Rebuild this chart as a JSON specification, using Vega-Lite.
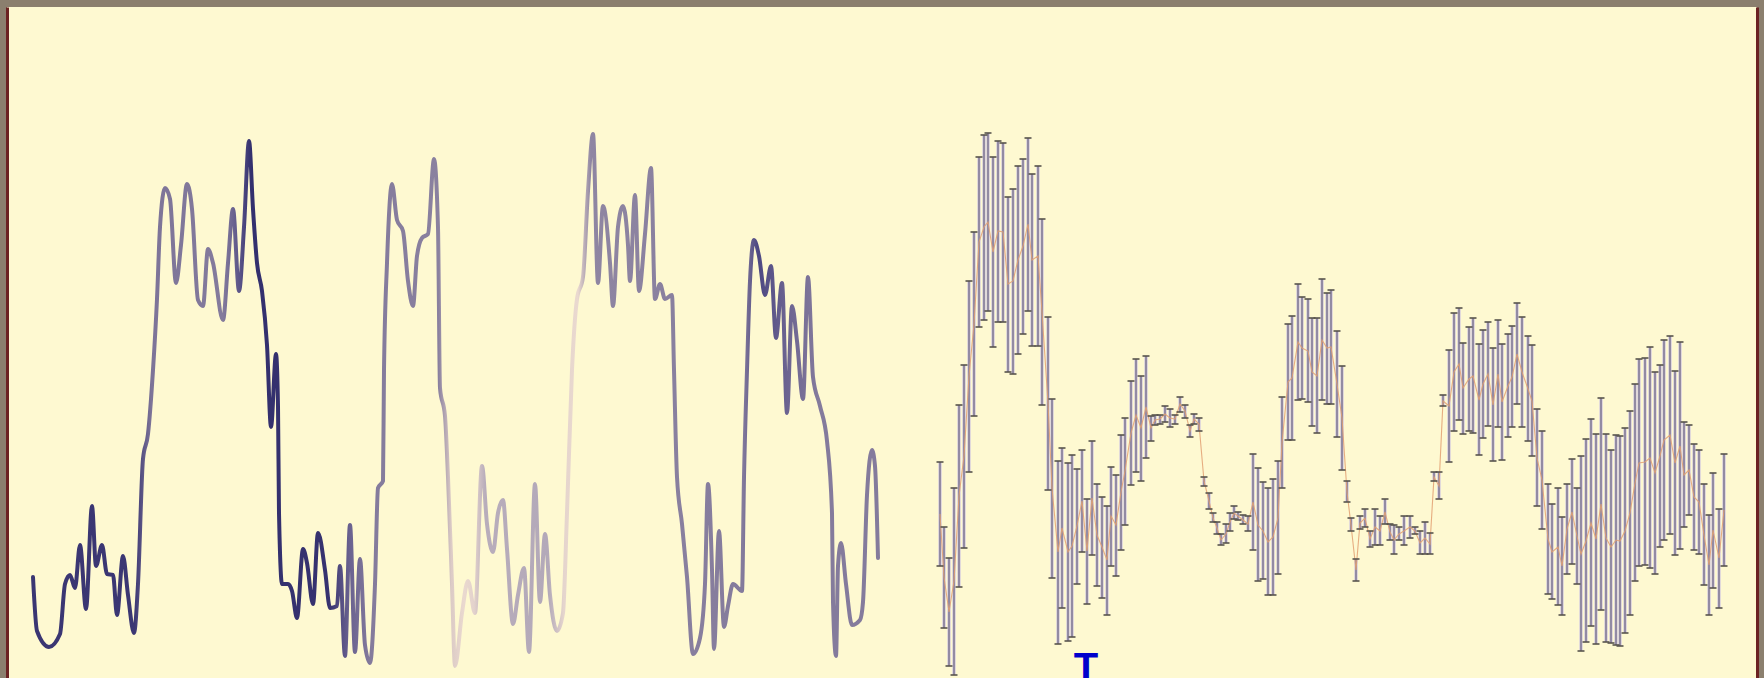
{
  "$schema": "https://vega.github.io/schema/vega-lite/v6.json",
  "width": 1750,
  "height": 671,
  "autosize": {"type": "none"},
  "padding": {"left": 7, "top": 7, "right": 7, "bottom": 0},
  "background": "#8b7f6e",
  "config": {
    "view": {"stroke": null, "fill": "#fef9d1"},
    "axis": {"labels": false, "ticks": false, "grid": false, "domainColor": "#6b2222", "domainWidth": 3}
  },
  "datasets": {
    "line": [
      {"t":3.3,"v":10.1},{"t":3.7,"v":4.7},{"t":4.9,"v":3.1},{"t":6.0,"v":4.4},{"t":6.5,"v":9.4},{"t":7.0,"v":10.3},{"t":7.5,"v":9.0},{"t":8.0,"v":13.3},{"t":8.6,"v":6.9},{"t":9.2,"v":17.2},{"t":9.6,"v":11.2},{"t":10.2,"v":13.3},{"t":10.7,"v":10.4},{"t":11.3,"v":10.3},{"t":11.7,"v":6.3},{"t":12.3,"v":12.2},{"t":12.8,"v":8.3},{"t":13.4,"v":4.5},{"t":13.8,"v":9.4},{"t":14.3,"v":21.9},{"t":14.8,"v":24.4},{"t":15.3,"v":30.8},{"t":15.7,"v":37.9},{"t":16.0,"v":45.1},{"t":16.5,"v":49.0},{"t":17.0,"v":47.9},{"t":17.6,"v":39.5},{"t":18.1,"v":43.3},{"t":18.7,"v":49.4},{"t":19.2,"v":46.9},{"t":19.8,"v":37.8},{"t":20.3,"v":37.2},{"t":20.8,"v":42.9},{"t":21.3,"v":41.5},{"t":22.3,"v":35.8},{"t":22.8,"v":41.5},{"t":23.3,"v":46.9},{"t":23.9,"v":38.7},{"t":24.4,"v":45.1},{"t":24.9,"v":53.7},{"t":25.3,"v":46.9},{"t":25.7,"v":41.5},{"t":26.2,"v":38.7},{"t":26.7,"v":33.3},{"t":27.1,"v":25.1},{"t":27.6,"v":32.4},{"t":27.8,"v":27.2},{"t":27.9,"v":16.5},{"t":28.2,"v":9.4},{"t":28.8,"v":9.4},{"t":29.2,"v":8.7},{"t":29.7,"v":6.0},{"t":30.3,"v":12.9},{"t":30.7,"v":11.5},{"t":31.3,"v":7.4},{"t":31.8,"v":14.5},{"t":32.5,"v":10.8},{"t":33.0,"v":7.0},{"t":33.7,"v":7.2},{"t":34.0,"v":11.2},{"t":34.5,"v":2.2},{"t":35.0,"v":15.3},{"t":35.5,"v":2.6},{"t":36.0,"v":11.9},{"t":36.5,"v":3.3},{"t":37.0,"v":1.5},{"t":37.5,"v":9.4},{"t":37.8,"v":19.0},{"t":38.3,"v":19.7},{"t":38.4,"v":30.8},{"t":38.7,"v":41.5},{"t":39.2,"v":49.4},{"t":39.7,"v":45.8},{"t":40.3,"v":44.7},{"t":40.8,"v":39.7},{"t":41.3,"v":37.2},{"t":41.7,"v":42.2},{"t":42.2,"v":44.0},{"t":42.8,"v":44.4},{"t":43.4,"v":51.9},{"t":43.8,"v":45.1},{"t":44.0,"v":29.0},{"t":44.5,"v":26.2},{"t":44.8,"v":20.1},{"t":45.2,"v":9.4},{"t":45.5,"v":1.2},{"t":46.2,"v":6.5},{"t":46.8,"v":9.7},{"t":47.5,"v":6.5},{"t":48.2,"v":21.2},{"t":48.7,"v":15.4},{"t":49.3,"v":12.6},{"t":49.8,"v":16.5},{"t":50.3,"v":17.8},{"t":50.7,"v":12.9},{"t":51.3,"v":5.4},{"t":51.8,"v":8.3},{"t":52.4,"v":11.0},{"t":52.9,"v":2.6},{"t":53.5,"v":19.4},{"t":54.0,"v":7.6},{"t":54.5,"v":14.4},{"t":55.0,"v":8.3},{"t":55.7,"v":4.7},{"t":56.3,"v":6.5},{"t":56.7,"v":16.5},{"t":57.2,"v":30.8},{"t":57.7,"v":37.9},{"t":58.3,"v":40.1},{"t":58.8,"v":48.7},{"t":59.3,"v":54.4},{"t":59.8,"v":39.5},{"t":60.3,"v":47.2},{"t":61.0,"v":41.5},{"t":61.3,"v":37.2},{"t":61.8,"v":45.1},{"t":62.3,"v":47.2},{"t":62.8,"v":43.3},{"t":63.0,"v":39.7},{"t":63.5,"v":48.3},{"t":63.9,"v":38.7},{"t":64.5,"v":44.4},{"t":65.1,"v":51.0},{"t":65.5,"v":37.9},{"t":66.0,"v":39.4},{"t":66.5,"v":37.9},{"t":67.2,"v":38.3},{"t":67.4,"v":30.8},{"t":67.7,"v":20.1},{"t":68.2,"v":15.4},{"t":68.7,"v":10.1},{"t":69.3,"v":2.4},{"t":70.0,"v":4.0},{"t":70.5,"v":9.4},{"t":70.8,"v":19.4},{"t":71.2,"v":10.8},{"t":71.4,"v":2.9},{"t":71.9,"v":14.7},{"t":72.4,"v":5.1},{"t":72.8,"v":7.2},{"t":73.3,"v":9.4},{"t":74.2,"v":8.7},{"t":74.4,"v":20.1},{"t":74.7,"v":30.8},{"t":75.0,"v":39.7},{"t":75.4,"v":43.8},{"t":75.9,"v":42.2},{"t":76.5,"v":38.3},{"t":77.1,"v":41.2},{"t":77.6,"v":34.0},{"t":78.2,"v":39.5},{"t":78.7,"v":26.5},{"t":79.2,"v":37.2},{"t":79.7,"v":33.7},{"t":80.3,"v":27.9},{"t":80.8,"v":40.1},{"t":81.3,"v":30.1},{"t":82.0,"v":27.2},{"t":82.7,"v":23.7},{"t":83.2,"v":16.5},{"t":83.3,"v":7.6},{"t":83.6,"v":2.2},{"t":83.8,"v":11.2},{"t":84.1,"v":13.5},{"t":84.6,"v":9.4},{"t":85.2,"v":5.3},{"t":86.0,"v":5.8},{"t":86.3,"v":7.6},{"t":86.7,"v":18.3},{"t":87.2,"v":22.8},{"t":87.5,"v":21.2},{"t":87.8,"v":12.0}
    ],
    "bars": [
      {"t":94.0,"lo":11.2,"hi":21.6,"m":16.4},{"t":94.4,"lo":5.0,"hi":15.1,"m":10.1},{"t":94.9,"lo":1.2,"hi":12.0,"m":6.6},{"t":95.4,"lo":0.3,"hi":19.0,"m":9.7},{"t":95.9,"lo":9.1,"hi":27.3,"m":18.2},{"t":96.4,"lo":13.0,"hi":31.3,"m":22.2},{"t":96.9,"lo":20.6,"hi":39.7,"m":30.2},{"t":97.4,"lo":26.2,"hi":44.6,"m":35.4},{"t":97.9,"lo":35.1,"hi":52.1,"m":43.6},{"t":98.4,"lo":35.8,"hi":54.3,"m":45.1},{"t":98.8,"lo":36.7,"hi":54.5,"m":45.6},{"t":99.3,"lo":33.1,"hi":52.1,"m":42.6},{"t":99.8,"lo":35.6,"hi":53.7,"m":44.7},{"t":100.3,"lo":35.6,"hi":53.5,"m":44.6},{"t":100.8,"lo":30.6,"hi":48.1,"m":39.4},{"t":101.3,"lo":30.4,"hi":48.9,"m":39.7},{"t":101.8,"lo":32.4,"hi":51.2,"m":41.8},{"t":102.3,"lo":34.4,"hi":51.9,"m":43.2},{"t":102.8,"lo":36.7,"hi":54.0,"m":45.4},{"t":103.2,"lo":33.2,"hi":50.4,"m":41.8},{"t":103.8,"lo":33.2,"hi":51.2,"m":42.2},{"t":104.2,"lo":27.3,"hi":45.9,"m":36.6},{"t":104.8,"lo":18.8,"hi":36.1,"m":27.5},{"t":105.2,"lo":10.0,"hi":27.9,"m":19.0},{"t":105.8,"lo":3.4,"hi":21.7,"m":12.6},{"t":106.2,"lo":7.0,"hi":23.0,"m":15.0},{"t":106.8,"lo":3.7,"hi":21.5,"m":12.6},{"t":107.2,"lo":4.1,"hi":22.3,"m":13.2},{"t":107.7,"lo":9.4,"hi":20.9,"m":15.2},{"t":108.2,"lo":12.6,"hi":22.8,"m":17.7},{"t":108.7,"lo":7.4,"hi":17.9,"m":12.7},{"t":109.2,"lo":12.3,"hi":23.7,"m":18.0},{"t":109.7,"lo":9.2,"hi":19.4,"m":14.3},{"t":110.2,"lo":8.0,"hi":18.1,"m":13.1},{"t":110.7,"lo":6.3,"hi":17.2,"m":11.8},{"t":111.1,"lo":11.2,"hi":21.1,"m":16.2},{"t":111.6,"lo":10.2,"hi":20.3,"m":15.3},{"t":112.1,"lo":12.8,"hi":24.3,"m":18.6},{"t":112.5,"lo":15.3,"hi":26.0,"m":20.7},{"t":113.1,"lo":19.3,"hi":29.7,"m":24.5},{"t":113.6,"lo":20.6,"hi":31.9,"m":26.3},{"t":114.1,"lo":19.7,"hi":30.2,"m":25.0},{"t":114.6,"lo":22.0,"hi":32.2,"m":27.1},{"t":115.1,"lo":23.7,"hi":26.2,"m":25.0},{"t":115.5,"lo":25.3,"hi":26.3,"m":25.8},{"t":116.0,"lo":25.4,"hi":26.3,"m":25.9},{"t":116.5,"lo":25.6,"hi":27.2,"m":26.4},{"t":117.0,"lo":25.1,"hi":26.9,"m":26.0},{"t":117.5,"lo":25.4,"hi":26.3,"m":25.9},{"t":118.0,"lo":26.6,"hi":28.1,"m":27.4},{"t":118.5,"lo":26.0,"hi":27.3,"m":26.7},{"t":119.0,"lo":24.1,"hi":25.3,"m":24.7},{"t":119.4,"lo":25.4,"hi":26.4,"m":25.9},{"t":119.9,"lo":24.7,"hi":26.0,"m":25.4},{"t":120.4,"lo":19.2,"hi":20.1,"m":19.7},
      {"t":120.9,"lo":16.9,"hi":18.5,"m":17.7},{"t":121.3,"lo":15.6,"hi":16.5,"m":16.0},{"t":121.7,"lo":14.4,"hi":15.6,"m":15.0},{"t":122.1,"lo":13.3,"hi":14.4,"m":13.8},{"t":122.6,"lo":13.5,"hi":15.4,"m":14.4},{"t":123.0,"lo":14.7,"hi":16.5,"m":15.6},{"t":123.4,"lo":15.9,"hi":17.2,"m":16.5},{"t":123.8,"lo":15.8,"hi":16.6,"m":16.2},{"t":124.3,"lo":15.4,"hi":16.3,"m":15.8},{"t":124.8,"lo":14.7,"hi":16.2,"m":15.4},{"t":125.3,"lo":12.8,"hi":22.4,"m":17.6},{"t":125.8,"lo":9.7,"hi":21.0,"m":15.3},{"t":126.3,"lo":9.9,"hi":19.6,"m":14.7},{"t":126.8,"lo":8.3,"hi":19.0,"m":13.6},{"t":127.3,"lo":8.3,"hi":19.9,"m":14.1},{"t":127.8,"lo":10.4,"hi":21.7,"m":16.0},{"t":128.2,"lo":19.0,"hi":28.1,"m":23.5},{"t":128.8,"lo":23.8,"hi":35.4,"m":29.6},{"t":129.2,"lo":23.8,"hi":36.2,"m":30.0},{"t":129.8,"lo":27.8,"hi":39.4,"m":33.6},{"t":130.2,"lo":27.9,"hi":38.1,"m":33.0},{"t":130.8,"lo":27.6,"hi":37.9,"m":32.7},{"t":131.2,"lo":25.2,"hi":36.0,"m":30.6},{"t":131.7,"lo":24.5,"hi":36.0,"m":30.2},{"t":132.2,"lo":27.8,"hi":39.9,"m":33.8},{"t":132.7,"lo":27.4,"hi":38.5,"m":33.0},{"t":133.1,"lo":27.4,"hi":38.8,"m":33.1},{"t":133.7,"lo":24.1,"hi":34.7,"m":29.4},{"t":134.2,"lo":20.8,"hi":31.2,"m":26.0},{"t":134.7,"lo":17.6,"hi":19.7,"m":18.6},{"t":135.1,"lo":14.7,"hi":16.0,"m":15.3},{"t":135.6,"lo":9.7,"hi":11.9,"m":10.8},{"t":136.0,"lo":14.9,"hi":16.2,"m":15.5},{"t":136.5,"lo":15.1,"hi":16.9,"m":16.0},{"t":137.0,"lo":13.1,"hi":14.7,"m":13.9},{"t":137.5,"lo":13.3,"hi":16.9,"m":15.1},{"t":138.0,"lo":13.3,"hi":16.2,"m":14.7},{"t":138.5,"lo":15.4,"hi":17.9,"m":16.6},{"t":139.0,"lo":13.8,"hi":15.4,"m":14.6},{"t":139.4,"lo":12.4,"hi":15.3,"m":13.8},{"t":139.9,"lo":13.8,"hi":15.1,"m":14.4},{"t":140.4,"lo":13.3,"hi":16.2,"m":14.7},{"t":141.0,"lo":14.0,"hi":16.2,"m":15.1},{"t":141.5,"lo":14.4,"hi":15.1,"m":14.7},{"t":142.0,"lo":12.4,"hi":14.7,"m":13.5},{"t":142.5,"lo":12.4,"hi":15.6,"m":14.0},{"t":143.0,"lo":12.4,"hi":14.5,"m":13.4},{"t":143.4,"lo":19.7,"hi":20.6,"m":20.1},{"t":143.9,"lo":17.9,"hi":20.6,"m":19.2},{"t":144.3,"lo":27.2,"hi":28.3,"m":27.7},{"t":144.9,"lo":21.6,"hi":32.8,"m":27.2},{"t":145.4,"lo":24.7,"hi":36.5,"m":30.6},{"t":145.9,"lo":25.8,"hi":37.0,"m":31.4},{"t":146.3,"lo":24.4,"hi":33.5,"m":29.0},{"t":146.9,"lo":24.7,"hi":35.1,"m":29.9},{"t":147.3,"lo":24.5,"hi":36.0,"m":30.2},
      {"t":147.9,"lo":22.3,"hi":33.4,"m":27.8},{"t":148.3,"lo":24.0,"hi":34.8,"m":29.4},{"t":148.8,"lo":25.2,"hi":35.6,"m":30.4},{"t":149.3,"lo":21.7,"hi":33.0,"m":27.3},{"t":149.8,"lo":25.1,"hi":35.8,"m":30.4},{"t":150.2,"lo":21.8,"hi":33.4,"m":27.6},{"t":150.8,"lo":24.1,"hi":34.4,"m":29.2},{"t":151.2,"lo":25.1,"hi":35.2,"m":30.1},{"t":151.7,"lo":27.4,"hi":37.5,"m":32.4},{"t":152.2,"lo":25.1,"hi":36.1,"m":30.6},{"t":152.8,"lo":23.7,"hi":34.2,"m":28.9},{"t":153.2,"lo":22.2,"hi":33.3,"m":27.7},{"t":153.7,"lo":17.2,"hi":26.9,"m":22.0},{"t":154.2,"lo":14.9,"hi":24.7,"m":19.8},{"t":154.8,"lo":8.4,"hi":19.4,"m":13.9},{"t":155.2,"lo":7.9,"hi":17.4,"m":12.6},{"t":155.8,"lo":7.3,"hi":19.0,"m":13.1},{"t":156.2,"lo":6.3,"hi":16.1,"m":11.2},{"t":156.7,"lo":10.4,"hi":19.4,"m":14.9},{"t":157.2,"lo":11.4,"hi":21.9,"m":16.6},{"t":157.7,"lo":9.4,"hi":19.0,"m":14.2},{"t":158.1,"lo":2.7,"hi":22.2,"m":12.4},{"t":158.6,"lo":3.6,"hi":23.9,"m":13.7},{"t":159.1,"lo":5.2,"hi":25.9,"m":15.5},{"t":159.6,"lo":3.4,"hi":24.4,"m":13.9},{"t":160.1,"lo":6.8,"hi":28.0,"m":17.4},{"t":160.6,"lo":3.6,"hi":24.4,"m":14.0},{"t":161.1,"lo":3.5,"hi":22.8,"m":13.1},{"t":161.6,"lo":3.3,"hi":24.3,"m":13.8},{"t":162.0,"lo":3.2,"hi":24.2,"m":13.7},{"t":162.5,"lo":4.5,"hi":25.0,"m":14.7},{"t":163.0,"lo":6.3,"hi":26.7,"m":16.5},{"t":163.5,"lo":9.7,"hi":29.4,"m":19.5},{"t":163.9,"lo":11.2,"hi":31.9,"m":21.5},{"t":164.5,"lo":11.3,"hi":32.0,"m":21.6},{"t":165.0,"lo":11.0,"hi":33.1,"m":22.0},{"t":165.5,"lo":10.4,"hi":30.6,"m":20.5},{"t":166.0,"lo":13.1,"hi":31.3,"m":22.2},{"t":166.4,"lo":13.8,"hi":33.8,"m":23.8},{"t":167.0,"lo":14.4,"hi":34.2,"m":24.3},{"t":167.5,"lo":12.3,"hi":30.7,"m":21.5},{"t":168.0,"lo":12.9,"hi":33.6,"m":23.2},{"t":168.4,"lo":15.1,"hi":25.6,"m":20.3},{"t":168.9,"lo":16.3,"hi":25.3,"m":20.8},{"t":169.4,"lo":12.8,"hi":23.4,"m":18.1},{"t":169.9,"lo":12.4,"hi":22.8,"m":17.6},{"t":170.4,"lo":9.3,"hi":19.4,"m":14.3},{"t":170.9,"lo":6.3,"hi":16.3,"m":11.3},{"t":171.3,"lo":9.0,"hi":20.5,"m":14.8},{"t":171.9,"lo":7.0,"hi":16.9,"m":12.0},{"t":172.4,"lo":11.2,"hi":22.4,"m":16.8}
    ],
    "mark": [{"t": 108.6, "v": -0.3, "txt": "T"}]
  },
  "resolve": {"axis": {"y": "independent"}},
  "layer": [
    {
      "data": {"name": "line"},
      "mark": {
        "type": "line",
        "interpolate": "monotone",
        "strokeWidth": 4,
        "strokeCap": "round",
        "strokeJoin": "round",
        "stroke": {
          "gradient": "linear", "x1": 0, "y1": 0, "x2": 1, "y2": 0,
          "stops": [
            {"offset": 0, "color": "#3a3672"},
            {"offset": 0.12, "color": "#3b3773"},
            {"offset": 0.14, "color": "#7d7498"},
            {"offset": 0.225, "color": "#847b9c"},
            {"offset": 0.245, "color": "#5a5488"},
            {"offset": 0.258, "color": "#33306e"},
            {"offset": 0.35, "color": "#36326f"},
            {"offset": 0.375, "color": "#6a6290"},
            {"offset": 0.4, "color": "#847b9c"},
            {"offset": 0.48, "color": "#8a819f"},
            {"offset": 0.495, "color": "#dccbc6"},
            {"offset": 0.51, "color": "#ead9cf"},
            {"offset": 0.522, "color": "#e3d2cc"},
            {"offset": 0.535, "color": "#b8adbb"},
            {"offset": 0.61, "color": "#b3a9b9"},
            {"offset": 0.628, "color": "#e5d5cd"},
            {"offset": 0.645, "color": "#ead9cf"},
            {"offset": 0.66, "color": "#8f86a2"},
            {"offset": 0.84, "color": "#847b9c"},
            {"offset": 0.858, "color": "#4d4882"},
            {"offset": 0.89, "color": "#6a6290"},
            {"offset": 0.93, "color": "#847b9c"},
            {"offset": 1, "color": "#847b9c"}
          ]
        }
      },
      "encoding": {
        "x": {"field": "t", "type": "quantitative", "title": null, "scale": {"domain": [0.7, 175.7], "nice": false, "zero": false}, "axis": {"orient": "top"}},
        "y": {"field": "v", "type": "quantitative", "title": null, "scale": {"domain": [0, 67.1], "nice": false, "zero": false}, "axis": {"orient": "left"}}
      }
    },
    {
      "data": {"name": "bars"},
      "mark": {"type": "rule", "strokeWidth": 4, "color": "#c8c0e2", "opacity": 0.55},
      "encoding": {
        "x": {"field": "t", "type": "quantitative", "axis": null},
        "y": {"field": "lo", "type": "quantitative", "title": null, "axis": {"orient": "right"}},
        "y2": {"field": "hi"}
      }
    },
    {
      "data": {"name": "bars"},
      "mark": {"type": "rule", "strokeWidth": 1.6, "color": "#7f7795"},
      "encoding": {
        "x": {"field": "t", "type": "quantitative", "axis": null},
        "y": {"field": "lo", "type": "quantitative", "axis": null},
        "y2": {"field": "hi"}
      }
    },
    {
      "data": {"name": "bars"},
      "mark": {"type": "line", "strokeWidth": 1.1, "color": "#e2a072", "opacity": 0.85},
      "encoding": {
        "x": {"field": "t", "type": "quantitative", "axis": null},
        "y": {"field": "m", "type": "quantitative", "axis": null}
      }
    },
    {
      "data": {"name": "bars"},
      "mark": {"type": "tick", "orient": "horizontal", "size": 7, "thickness": 1.6, "color": "#57534c", "opacity": 1},
      "encoding": {
        "x": {"field": "t", "type": "quantitative", "axis": null},
        "y": {"field": "hi", "type": "quantitative", "axis": null}
      }
    },
    {
      "data": {"name": "bars"},
      "mark": {"type": "tick", "orient": "horizontal", "size": 7, "thickness": 1.6, "color": "#57534c", "opacity": 1},
      "encoding": {
        "x": {"field": "t", "type": "quantitative", "axis": null},
        "y": {"field": "lo", "type": "quantitative", "axis": null}
      }
    },
    {
      "data": {"name": "mark"},
      "mark": {"type": "text", "font": "Liberation Sans", "fontSize": 40, "fontWeight": "bold", "color": "#0000cc", "align": "center", "baseline": "alphabetic"},
      "encoding": {
        "x": {"field": "t", "type": "quantitative", "axis": null},
        "y": {"field": "v", "type": "quantitative", "axis": null},
        "text": {"field": "txt"}
      }
    }
  ]
}
